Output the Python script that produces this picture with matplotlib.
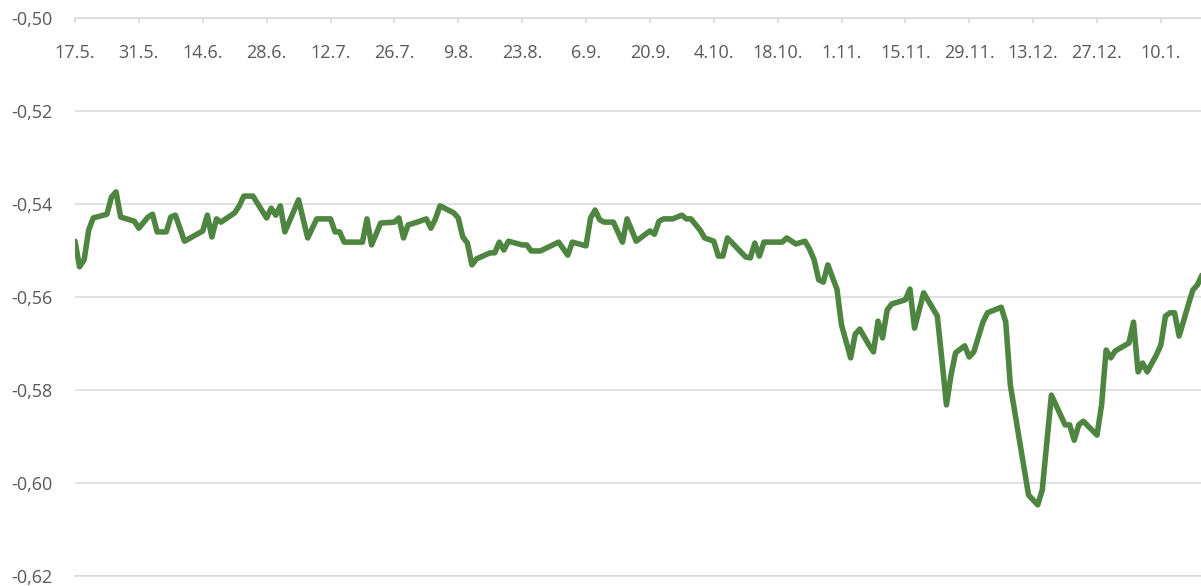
import datetime as dt
import matplotlib
matplotlib.use("Agg")
import matplotlib.pyplot as plt
import matplotlib.ticker as mticker
import numpy as np

# days after the start date (17.5.) and the value on that day
start = dt.date(2021, 5, 17)
days = [0, 1, 2, 3, 4, 7, 8, 9, 10, 13, 14, 16, 17, 18, 20, 21, 22, 24, 28, 29,
        30, 31, 32, 35, 36, 37, 39, 42, 43, 44, 45, 46, 49, 51, 53, 56, 57, 58, 59, 63,
        64, 65, 67, 70, 71, 72, 73, 75, 77, 78, 79, 80, 83, 84, 85, 86, 87, 88, 91, 92,
        93, 94, 95, 98, 99, 100, 102, 106, 108, 109, 112, 113, 114, 115, 116, 118, 120, 121, 123, 126,
        127, 128, 129, 131, 133, 134, 135, 137, 138, 140, 141, 142, 143, 147, 148, 149, 150, 151, 155, 156,
        158, 160, 161, 162, 163, 164, 165, 167, 168, 170, 171, 172, 174, 175, 176, 177, 178, 179, 182, 183,
        184, 186, 189, 190, 191, 192, 193, 195, 196, 197, 199, 200, 203, 204, 205, 206, 207, 209, 211, 212,
        214, 217, 218, 219, 220, 221, 224, 225, 226, 227, 228, 231, 232, 233, 234, 235, 237, 238, 239, 240,
        241, 242, 244, 245, 246, 247]
values = [-0.5480, -0.5535, -0.5520, -0.5456, -0.5430, -0.5422, -0.5385, -0.5374, -0.5428, -0.5437,
          -0.5452, -0.5428, -0.5422, -0.5460, -0.5460, -0.5428, -0.5424, -0.5480, -0.5458, -0.5424,
          -0.5471, -0.5432, -0.5439, -0.5419, -0.5404, -0.5383, -0.5383, -0.5430, -0.5409, -0.5424,
          -0.5404, -0.5460, -0.5391, -0.5473, -0.5432, -0.5432, -0.5460, -0.5460, -0.5482, -0.5482,
          -0.5432, -0.5488, -0.5441, -0.5439, -0.5430, -0.5473, -0.5445, -0.5439, -0.5432, -0.5452,
          -0.5432, -0.5404, -0.5419, -0.5430, -0.5471, -0.5484, -0.5531, -0.5518, -0.5505, -0.5505,
          -0.5482, -0.5499, -0.5480, -0.5488, -0.5488, -0.5501, -0.5501, -0.5482, -0.5510, -0.5482,
          -0.5490, -0.5430, -0.5413, -0.5434, -0.5439, -0.5439, -0.5482, -0.5432, -0.5480, -0.5458,
          -0.5465, -0.5437, -0.5432, -0.5432, -0.5424, -0.5432, -0.5432, -0.5456, -0.5473, -0.5480,
          -0.5512, -0.5512, -0.5473, -0.5514, -0.5516, -0.5484, -0.5512, -0.5482, -0.5482, -0.5473,
          -0.5486, -0.5480, -0.5497, -0.5520, -0.5563, -0.5568, -0.5531, -0.5583, -0.5660, -0.5731,
          -0.5680, -0.5669, -0.5703, -0.5718, -0.5652, -0.5688, -0.5628, -0.5615, -0.5606, -0.5583,
          -0.5667, -0.5591, -0.5641, -0.5735, -0.5832, -0.5768, -0.5720, -0.5705, -0.5729, -0.5718,
          -0.5654, -0.5634, -0.5622, -0.5654, -0.5789, -0.5849, -0.5908, -0.6026, -0.6047, -0.6015,
          -0.5811, -0.5875, -0.5875, -0.5908, -0.5875, -0.5867, -0.5897, -0.5832, -0.5714, -0.5731,
          -0.5716, -0.5699, -0.5654, -0.5761, -0.5742, -0.5761, -0.5725, -0.5703, -0.5641, -0.5634,
          -0.5634, -0.5684, -0.5617, -0.5585, -0.5574, -0.5553]

yticks = [-0.62, -0.60, -0.58, -0.56, -0.54, -0.52, -0.50]
tick_step = 14  # days between x labels

dates = [np.datetime64(start + dt.timedelta(days=d)) for d in days]
xticks = [np.datetime64(start + dt.timedelta(days=int(d))) for d in np.arange(0, 239, tick_step)]

grid_col = "#d9d9d9"
text_col = "#595959"
plt.rcParams["font.family"] = ["Open Sans", "DejaVu Sans"]

fig = plt.figure(figsize=(12.01, 5.86), dpi=100)
ax = fig.add_axes([75 / 1201, 10 / 586, 1126 / 1201, 558 / 586])

ax.plot(dates, values, color="#4e8540", lw=4.0, solid_joinstyle="round", solid_capstyle="round")

ax.set_ylim(-0.62, -0.50)
ax.set_yticks(yticks)
ax.yaxis.set_major_formatter(mticker.FuncFormatter(lambda v, p: f"{v:.2f}".replace(".", ",")))
ax.set_xlim(np.datetime64(start), np.datetime64(start) + np.timedelta64(int(246.8 * 24), "h"))
ax.set_xticks(xticks)
ax.xaxis.set_major_formatter(mticker.FuncFormatter(
    lambda v, p: "{}.{}.".format(matplotlib.dates.num2date(v).day, matplotlib.dates.num2date(v).month)))

ax.grid(axis="y", color=grid_col, lw=1.1)
ax.grid(axis="x", visible=False)
ax.set_axisbelow(True)
for s in ["left", "right"]:
    ax.spines[s].set_visible(False)
for s in ["top", "bottom"]:
    ax.spines[s].set_color(grid_col)
    ax.spines[s].set_linewidth(1.1)

ax.tick_params(axis="x", top=True, bottom=False, labeltop=True, labelbottom=False,
               direction="in", length=3.6, width=1.1, color=grid_col,
               pad=-31.5, labelsize=13, labelcolor=text_col)
ax.tick_params(axis="y", length=0, pad=16, labelsize=13, labelcolor=text_col)

fig.savefig("out.png", dpi=100)
